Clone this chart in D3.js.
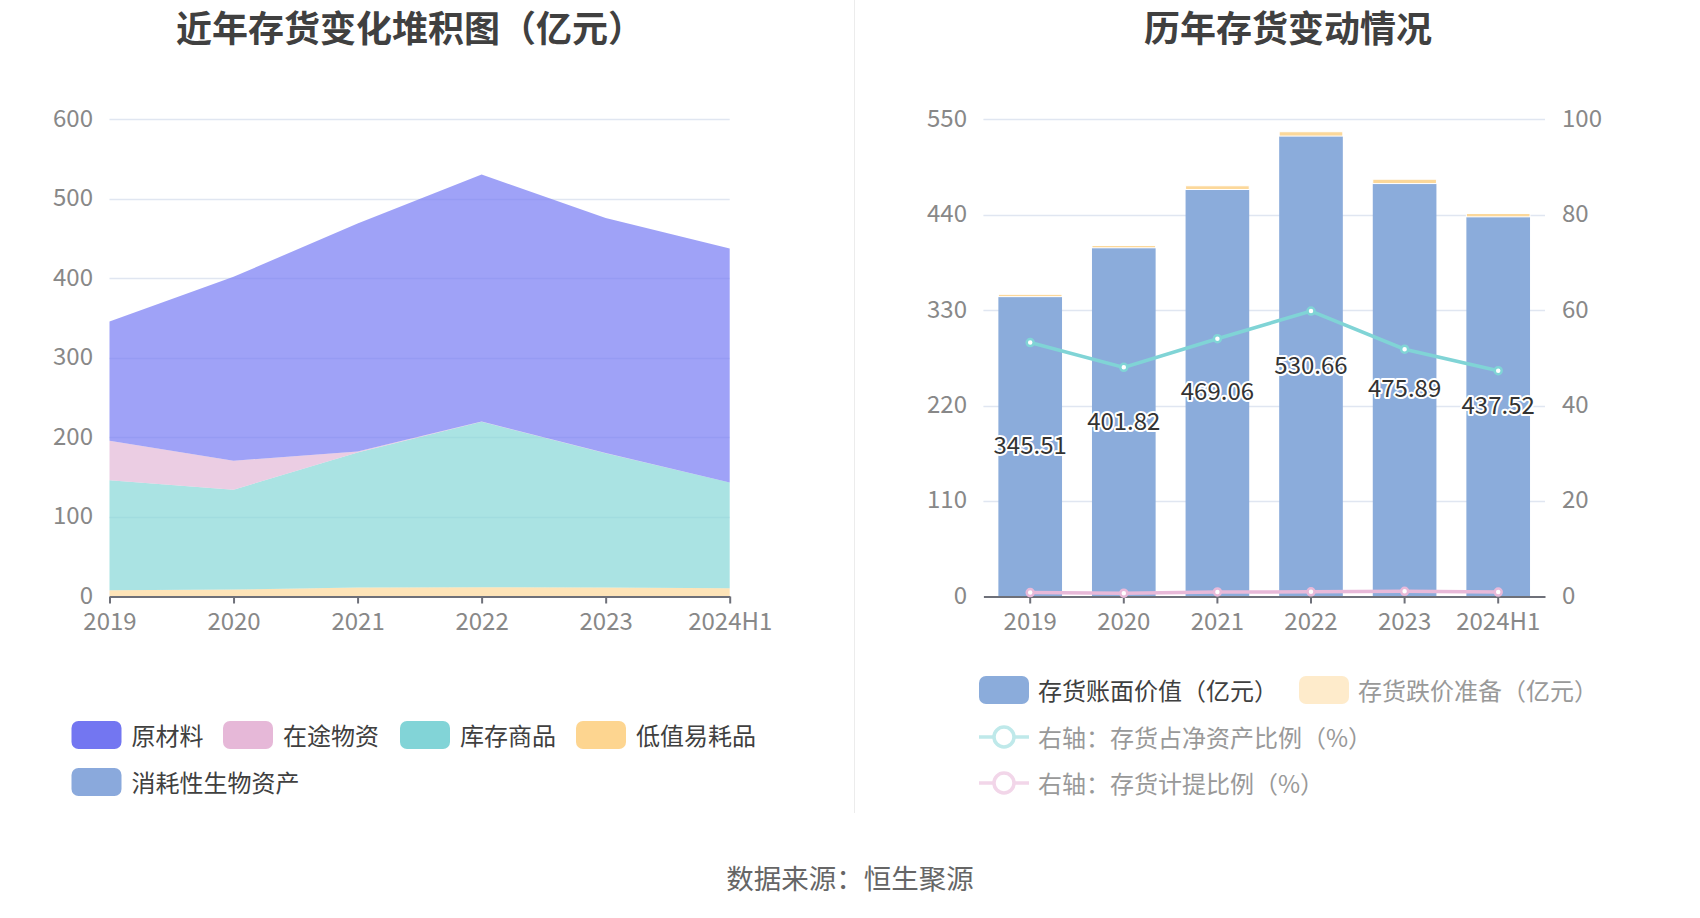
<!DOCTYPE html>
<html><head><meta charset="utf-8">
<script src="https://cdn.jsdelivr.net/npm/d3@7"></script>
<style>
html,body{margin:0;padding:0;background:#fff;}
svg{display:block;font-family:"Noto Sans CJK SC","Noto Sans",sans-serif;}
</style></head>
<body>
<svg id="c" width="1700" height="918"></svg>
<script>
// ---------- data ----------
const years = ["2019", "2020", "2021", "2022", "2023", "2024H1"];
// left stacked area (亿元)
const rawMaterial = [149.81, 231.22, 287.06, 310.76, 295.59, 294.22]; // 原材料
const inTransit   = [49.7, 36.6, 1.0, 0.3, 0.3, 0.3];                   // 在途物资
const goods       = [138.3, 125.5, 170.0, 208.1, 169.0, 133.0];         // 库存商品
const lowValue    = [7.7, 8.5, 11.0, 11.5, 11.0, 10.0];                 // 低值易耗品
const bioAssets   = [0, 0, 0, 0, 0, 0];                                 // 消耗性生物资产
const leftTicks = [0, 100, 200, 300, 400, 500, 600];
// right combo
const bookValue = [345.51, 401.82, 469.06, 530.66, 475.89, 437.52];    // 存货账面价值
const provision = [2.7, 2.7, 4.3, 5.0, 5.0, 3.9];                       // 存货跌价准备
const invToNetAssets = [53.2, 48.0, 54.0, 59.8, 51.8, 47.3];           // 存货占净资产比例 %
const provisionRatio = [0.78, 0.66, 0.91, 0.94, 1.04, 0.88];           // 存货计提比例 %
const rightLeftTicks = [0, 110, 220, 330, 440, 550];
const rightRightTicks = [0, 20, 40, 60, 80, 100];

const areaSeries = [
  {name: "原材料", values: rawMaterial, color: "#767af4", legend: "#7376f1"},
  {name: "在途物资", values: inTransit, color: "#e3b8d7", legend: "#e6b8d8"},
  {name: "库存商品", values: goods, color: "#86d7d7", legend: "#82d4d7"},
  {name: "低值易耗品", values: lowValue, color: "#fed99a", legend: "#fdd590"},
  {name: "消耗性生物资产", values: bioAssets, color: "#8aa9dc", legend: "#8aa9dc"}
];

const svg = d3.select("#c");
const tickColor = "#888";
const gridColor = "#e0e6f1";
const axisColor = "#6e7079";
const lift = -3; // text baseline correction

// ---------- titles ----------
svg.append("text").attr("x", 410).attr("y", 26).attr("text-anchor", "middle")
  .attr("dominant-baseline", "central").attr("font-size", 36).attr("font-weight", "bold")
  .attr("fill", "#404040").text("近年存货变化堆积图（亿元）");
svg.append("text").attr("x", 1288).attr("y", 26).attr("text-anchor", "middle")
  .attr("dominant-baseline", "central").attr("font-size", 36).attr("font-weight", "bold")
  .attr("fill", "#404040").text("历年存货变动情况");

// divider
svg.append("line").attr("x1", 854.5).attr("x2", 854.5).attr("y1", 0).attr("y2", 813)
  .attr("stroke", "#ececec").attr("stroke-width", 1);

// ---------- left chart ----------
const xL = d3.scalePoint().domain(years).range([109.5, 729.7]);
const yL = d3.scaleLinear().domain([0, 600]).range([596.3, 119.3]);

const gL = svg.append("g");
gL.append("g").selectAll("line").data(leftTicks.filter(d => d > 0)).join("line")
  .attr("x1", xL.range()[0]).attr("x2", xL.range()[1])
  .attr("y1", d => Math.round(yL(d)) + 0.5).attr("y2", d => Math.round(yL(d)) + 0.5)
  .attr("stroke", gridColor).attr("stroke-width", 1.5);

// stacked areas (bottom to top)
const stackOrder = [...areaSeries].reverse();
const tableRows = years.map((y, i) => {
  const r = {year: y};
  areaSeries.forEach(s => r[s.name] = s.values[i]);
  return r;
});
const stack = d3.stack().keys(stackOrder.map(s => s.name));
const stacked = stack(tableRows);
const area = d3.area().x(d => xL(d.data.year)).y0(d => yL(d[0])).y1(d => yL(d[1]));
gL.append("g").selectAll("path").data(stacked).join("path")
  .attr("d", area)
  .attr("fill", (d, i) => stackOrder[i].color)
  .attr("fill-opacity", 0.7);

gL.append("g").selectAll("text").data(leftTicks).join("text")
  .attr("x", 93).attr("y", d => yL(d) + lift).attr("text-anchor", "end")
  .attr("dominant-baseline", "central").attr("font-size", 24).attr("fill", tickColor)
  .text(d => d);
const xAxisL = gL.append("g").attr("transform", `translate(0,${Math.round(yL(0)) + 0.5})`)
  .call(d3.axisBottom(xL).tickSize(7).tickPadding(8).tickSizeOuter(0));
xAxisL.select(".domain").attr("stroke", axisColor).attr("stroke-width", 2);
xAxisL.selectAll(".tick line").attr("stroke", axisColor).attr("stroke-width", 2);
xAxisL.selectAll(".tick text").attr("font-size", 24).attr("fill", tickColor)
  .attr("font-family", "Noto Sans CJK SC").attr("dy", "0.75em");

// left legend
const legL = [
  {s: areaSeries[0], x: 71.5, y: 735},
  {s: areaSeries[1], x: 223, y: 735},
  {s: areaSeries[2], x: 400, y: 735},
  {s: areaSeries[3], x: 576, y: 735},
  {s: areaSeries[4], x: 71.5, y: 782}
];
const lg = svg.append("g").selectAll("g").data(legL).join("g")
  .attr("transform", d => `translate(${d.x},${d.y})`);
lg.append("rect").attr("x", 0).attr("y", -14).attr("width", 50).attr("height", 28)
  .attr("rx", 7).attr("fill", d => d.s.legend);
lg.append("text").attr("x", 60).attr("y", -1).attr("dominant-baseline", "central")
  .attr("font-size", 24).attr("fill", "#404040").text(d => d.s.name);

// ---------- right chart ----------
const xR = d3.scaleBand().domain(years).range([983.4, 1545]).paddingInner(0.32).paddingOuter(0.16);
const yRL = d3.scaleLinear().domain([0, 550]).range([596.3, 119.3]);
const yRR = d3.scaleLinear().domain([0, 100]).range([596.3, 119.3]);
const gR = svg.append("g");

gR.append("g").selectAll("line").data(rightLeftTicks.filter(d => d > 0)).join("line")
  .attr("x1", 983.4).attr("x2", 1545)
  .attr("y1", d => Math.round(yRL(d)) + 0.5).attr("y2", d => Math.round(yRL(d)) + 0.5)
  .attr("stroke", gridColor).attr("stroke-width", 1.5);

gR.append("g").selectAll("rect").data(years).join("rect")
  .attr("x", d => xR(d)).attr("width", xR.bandwidth())
  .attr("y", (d, i) => yRL(bookValue[i])).attr("height", (d, i) => yRL(0) - yRL(bookValue[i]))
  .attr("fill", "#8bacdb");
gR.append("g").selectAll("rect").data(years).join("rect")
  .attr("x", d => xR(d)).attr("width", xR.bandwidth())
  .attr("y", (d, i) => yRL(bookValue[i] + provision[i]))
  .attr("height", (d, i) => yRL(bookValue[i]) - yRL(bookValue[i] + provision[i]))
  .attr("fill", "#fcd89a").attr("stroke", "#fff").attr("stroke-width", 1);

gR.append("g").selectAll("text").data(rightLeftTicks).join("text")
  .attr("x", 967).attr("y", d => yRL(d) + lift).attr("text-anchor", "end")
  .attr("dominant-baseline", "central").attr("font-size", 24).attr("fill", tickColor)
  .text(d => d);
gR.append("g").selectAll("text").data(rightRightTicks).join("text")
  .attr("x", 1562).attr("y", d => yRR(d) + lift).attr("text-anchor", "start")
  .attr("dominant-baseline", "central").attr("font-size", 24).attr("fill", tickColor)
  .text(d => d);

const xAxisR = gR.append("g").attr("transform", `translate(0,${Math.round(yRL(0)) + 0.5})`)
  .call(d3.axisBottom(xR).tickSize(7).tickPadding(8).tickSizeOuter(0));
xAxisR.select(".domain").attr("stroke", axisColor).attr("stroke-width", 2);
xAxisR.selectAll(".tick line").attr("stroke", axisColor).attr("stroke-width", 2);
xAxisR.selectAll(".tick text").attr("font-size", 24).attr("fill", tickColor)
  .attr("font-family", "Noto Sans CJK SC").attr("dy", "0.75em");

const cx = d => xR(d) + xR.bandwidth() / 2;
function drawLine(vals, color) {
  const line = d3.line().x((d, i) => cx(years[i])).y(d => yRR(d));
  gR.append("path").datum(vals).attr("d", line).attr("fill", "none")
    .attr("stroke", color).attr("stroke-width", 3.5);
  gR.append("g").selectAll("circle").data(vals).join("circle")
    .attr("cx", (d, i) => cx(years[i])).attr("cy", d => yRR(d)).attr("r", 3.5)
    .attr("fill", "#fff").attr("stroke", color).attr("stroke-width", 2.5);
}
drawLine(provisionRatio, "#e8b9d9");
drawLine(invToNetAssets, "#80d4d6");

gR.append("g").selectAll("text").data(years).join("text")
  .attr("x", d => cx(d)).attr("y", (d, i) => yRL(bookValue[i] / 2) + lift)
  .attr("text-anchor", "middle").attr("dominant-baseline", "central")
  .attr("font-size", 24).attr("fill", "#333")
  .attr("stroke", "#fff").attr("stroke-width", 4).attr("stroke-linejoin", "round")
  .attr("paint-order", "stroke")
  .text((d, i) => bookValue[i].toFixed(2));

// right legend
const legR = svg.append("g");
function rectItem(x, y, fill, label, tc) {
  const g = legR.append("g").attr("transform", `translate(${x},${y})`);
  g.append("rect").attr("x", 0).attr("y", -14).attr("width", 50).attr("height", 28)
    .attr("rx", 7).attr("fill", fill);
  g.append("text").attr("x", 59).attr("y", -1).attr("dominant-baseline", "central")
    .attr("font-size", 24).attr("fill", tc).text(label);
}
function lineItem(x, y, color, label, tc) {
  const g = legR.append("g").attr("transform", `translate(${x},${y})`);
  g.append("line").attr("x1", 0).attr("x2", 50).attr("y1", 0).attr("y2", 0)
    .attr("stroke", color).attr("stroke-width", 3.5);
  g.append("circle").attr("cx", 25).attr("cy", 0).attr("r", 10)
    .attr("fill", "#fff").attr("stroke", color).attr("stroke-width", 3.5);
  g.append("text").attr("x", 59).attr("y", -1).attr("dominant-baseline", "central")
    .attr("font-size", 24).attr("fill", tc).text(label);
}
rectItem(979, 690, "#8bacdb", "存货账面价值（亿元）", "#404040");
rectItem(1299, 690, "#feebcb", "存货跌价准备（亿元）", "#999");
lineItem(979, 737, "#bfe9ea", "右轴：存货占净资产比例（%）", "#999");
lineItem(979, 783, "#f2d6e9", "右轴：存货计提比例（%）", "#999");

// footer
svg.append("text").attr("x", 850).attr("y", 877).attr("text-anchor", "middle")
  .attr("dominant-baseline", "central").attr("font-size", 27.5).attr("fill", "#666")
  .text("数据来源：恒生聚源");
</script>
</body></html>
